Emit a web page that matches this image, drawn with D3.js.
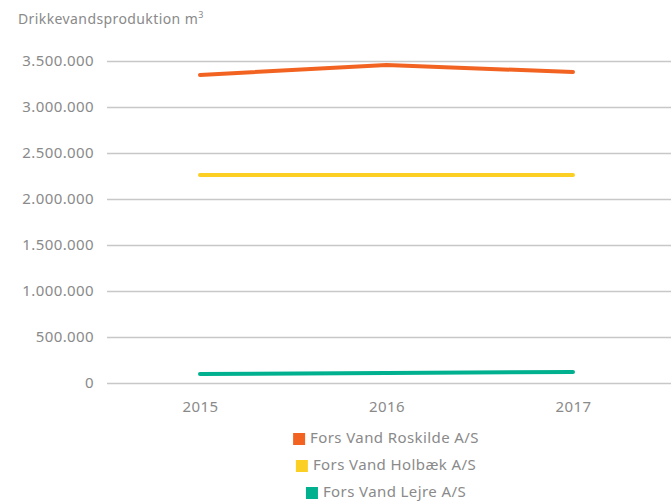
<!DOCTYPE html>
<html>
<head>
<meta charset="utf-8">
<script src="https://cdn.jsdelivr.net/npm/d3@7"></script>
<style>
  body { margin: 0; background: #fff; }
  text { font-family: "Noto Sans", sans-serif; fill: #8a8a8a; letter-spacing: 0.4px; }
</style>
</head>
<body>
<svg></svg>
<script>
const years = ["2015", "2016", "2017"];
const seriesNames = ["Fors Vand Roskilde A/S", "Fors Vand Holbæk A/S", "Fors Vand Lejre A/S"];
const roskilde = [3348000, 3457000, 3380000];
const holbaek = [2262000, 2260000, 2262000];
const lejre = [98000, 110000, 120000];
const colors = ["#f26322", "#fccf24", "#00b08e"];
const yTicks = [0, 500000, 1000000, 1500000, 2000000, 2500000, 3000000, 3500000];

const width = 671, height = 501;
const margin = {top: 61, right: 0, bottom: 118, left: 107};
const graphWidth = width - margin.left - margin.right;
const graphHeight = height - margin.top - margin.bottom;

const svg = d3.select("svg").attr("width", width).attr("height", height);
const graph = svg.append("g").attr("transform", `translate(${margin.left}, ${margin.top})`);

const xScale = d3.scalePoint().domain(years).range([93, 466]);
const yScale = d3.scaleLinear().domain([0, 3500000]).range([graphHeight, 0]);

const fmt = n => d3.format(",")(n).replace(/,/g, ".");

// grid lines + y labels
const yAxis = d3.axisLeft(yScale).tickValues(yTicks).tickFormat(fmt).tickSize(-graphWidth).tickPadding(13);
const yAxisGroup = graph.append("g").call(yAxis);
yAxisGroup.select(".domain").remove();
yAxisGroup.selectAll("line").attr("stroke", "#c8c8c8").attr("stroke-width", 1.3);
yAxisGroup.selectAll("text").attr("font-size", 15).attr("fill", "#8a8a8a").attr("font-family", "Noto Sans, sans-serif");

const xAxis = d3.axisBottom(xScale).tickSize(0).tickPadding(18);
const xAxisGroup = graph.append("g").attr("transform", `translate(0, ${graphHeight})`).call(xAxis);
xAxisGroup.select(".domain").remove();
xAxisGroup.selectAll("text").attr("font-size", 15).attr("fill", "#8a8a8a").attr("font-family", "Noto Sans, sans-serif");

// lines
const allSeries = [roskilde, holbaek, lejre];
const line = d3.line().x((d, i) => xScale(years[i])).y(d => yScale(d));
graph.selectAll(".series").data(allSeries).enter().append("path")
  .attr("class", "series")
  .attr("d", line)
  .attr("fill", "none")
  .attr("stroke", (d, i) => colors[i])
  .attr("stroke-width", 4)
  .attr("stroke-linecap", "round")
  .attr("stroke-linejoin", "round");

// title
const title = svg.append("text").attr("x", 18).attr("y", 24).attr("font-size", 14);
title.append("tspan").text("Drikkevandsproduktion m");
title.append("tspan").text("3").attr("font-size", 9).attr("dy", -6);

// legend
const legend = svg.append("g");
seriesNames.forEach((name, i) => {
  const row = legend.append("g").attr("transform", `translate(0, ${439 + i * 27})`);
  const t = row.append("text").text(name).attr("font-size", 15).attr("dominant-baseline", "middle");
  const w = t.node().getComputedTextLength();
  const total = w + 17;
  const x0 = 386 - total / 2;
  row.append("rect").attr("x", x0).attr("y", -6).attr("width", 12).attr("height", 12).attr("fill", colors[i]);
  t.attr("x", x0 + 17);
});
</script>
</body>
</html>
